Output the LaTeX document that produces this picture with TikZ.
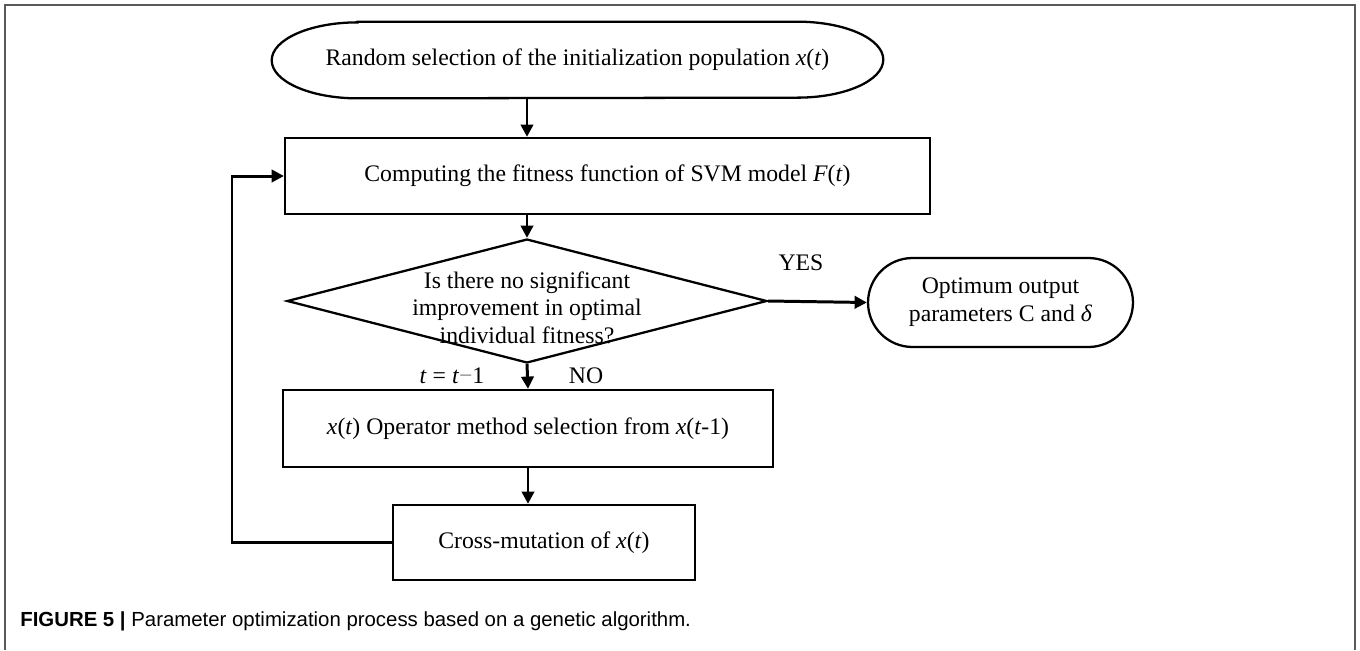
\documentclass[tikz,border=0pt]{standalone}
\usepackage{fontspec}
\setmainfont{Liberation Serif}
\newfontfamily\capfont{Liberation Sans}
\usetikzlibrary{positioning,shapes.geometric,shapes.misc,arrows.meta}

\newcommand{\ix}[1]{\textit{#1}}

\tikzset{
	txt/.style={font=\fontsize{13.5}{15.6}\selectfont},
	base/.style={draw, line width=1.3pt, txt, align=center, inner sep=0pt},
	stepbox/.style={base, rectangle},
	term/.style={base, rounded rectangle},
	decide/.style={base, diamond},
	outline/.style={line width=1.3pt},
	line/.style={line width=1.7pt, -{Triangle[length=7pt,width=7pt]}},
	lbl/.style={txt, inner sep=0pt},
}

\begin{document}
\begin{tikzpicture}[x=0.02cm, y=-0.02cm]
	\useasboundingbox (0,0) rectangle (1360,650);
	\draw [gray!70!black, line width=0.8pt] (5,650) -- (5,5) -- (1355,5) -- (1355,650);

	% start, ends drawn as half ellipses
	\node [inner sep=0pt, minimum width=8.78cm, minimum height=1.52cm] (init) at (577.5,60) {};
	\draw [outline] (init.north west) -- (init.north east)
		arc [start angle=90, end angle=-90, x radius=1.72cm, y radius=0.76cm]
		-- (init.south west)
		arc [start angle=-90, end angle=-270, x radius=1.72cm, y radius=0.76cm] -- cycle;
	\node [lbl] (inittext) at (init.center) {Random selection of the initialization population \ix{x}(\ix{t})};

	\node [stepbox, minimum width=12.9cm, minimum height=1.52cm] (fit) at (607.5,176) {Computing the fitness function of SVM model \ix{F}(\ix{t})};
	\node [decide, minimum width=9.6cm, minimum height=2.48cm] (test) at (527,301) {};
	\node [lbl, align=center] (ask) at ([yshift=-0.13cm]test.center) {Is there no significant\\improvement in optimal\\individual fitness?};
	\node [stepbox, minimum width=9.8cm, minimum height=1.54cm] (sel) at (528,428.5) {\ix{x}(\ix{t}) Operator method selection from \ix{x}(\ix{t}-1)};
	\node [stepbox, minimum width=6.04cm, minimum height=1.5cm] (cross) at (544,542.5) {Cross-mutation of \ix{x}(\ix{t})};
	\node [term, minimum width=5.3cm, minimum height=1.78cm, font=\fontsize{13.5}{16}\selectfont] (out) at (1000.5,302.5) {Optimum output\\parameters C and \ix{δ}};
	\coordinate (back) at (232,542.5);

	\node [lbl] (yes) at (801,263) {YES};
	\node [lbl] (no) at (586,376) {NO};
	\node [lbl] (dec) at (452,376) {\ix{t} = \ix{t}\textcolor{gray}{−}1};

	\draw [line] (test.north |- init.south) -- (test.north |- fit.north);
	\draw [line] (test.north |- fit.south) -- (test.north);
	\draw [line] (test.south) -- (sel.north);
	\draw [line] (sel.south) -- (sel.south |- cross.north);
	\draw [line] (test.east) -- (out.west);
	\draw [line] (cross.west) -- (back) |- (fit.west);

	\node [anchor=west, inner sep=0pt, font=\capfont\fontsize{11.6}{14}\selectfont] (cap) at (20,621) {\textbf{FIGURE 5 |} Parameter optimization process based on a genetic algorithm.};
\end{tikzpicture}
\end{document}
